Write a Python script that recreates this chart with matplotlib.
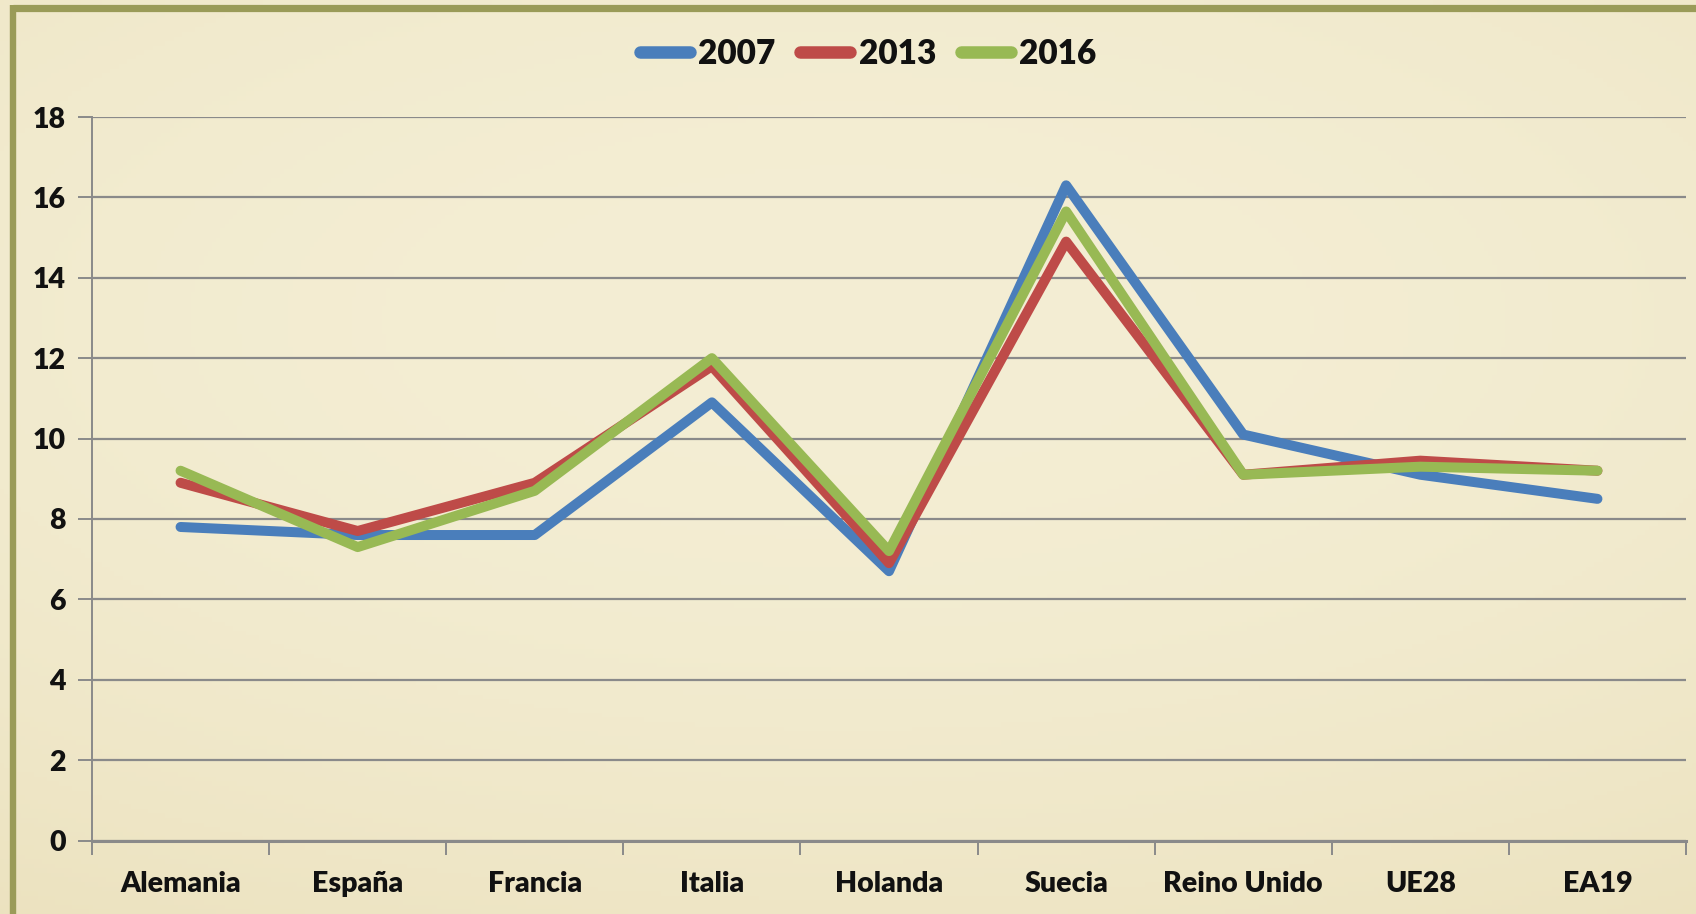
import numpy as np
import matplotlib
matplotlib.use("Agg")
import matplotlib.pyplot as plt
from matplotlib.lines import Line2D

categories = ["Alemania", "España", "Francia", "Italia", "Holanda", "Suecia", "Reino Unido", "UE28", "EA19"]
series_names = ["2007", "2013", "2016"]
v2007 = [7.8, 7.6, 7.6, 10.9, 6.7, 16.3, 10.1, 9.1, 8.5]
v2013 = [8.9, 7.7, 8.9, 11.8, 6.9, 14.9, 9.1, 9.45, 9.2]
v2016 = [9.2, 7.3, 8.7, 12.0, 7.2, 15.65, 9.1, 9.3, 9.2]
yticks = [0, 2, 4, 6, 8, 10, 12, 14, 16, 18]

colors = ["#4a7ebb", "#be4b48", "#98b954"]

plt.rcParams['font.family'] = ['Lato', 'DejaVu Sans']

W, H = 1696, 914
fig = plt.figure(figsize=(W / 100, H / 100), dpi=100)
fig.patch.set_facecolor("#f3ecd1")

# background parchment gradient (decorative)
bg = fig.add_axes([0, 0, 1, 1], zorder=-10)
yy, xx = np.mgrid[0:1:200j, 0:1:400j]
r = np.sqrt(((xx - 0.5) / 1.1) ** 2 + ((yy - 0.35) / 0.9) ** 2)
base = np.array([0xf4, 0xee, 0xd4]) / 255.0
edge = np.array([0xe9, 0xde, 0xb8]) / 255.0
t = np.clip(r, 0, 1)[..., None] ** 2
img = base * (1 - t) + edge * t
bg.imshow(img, extent=[0, 1, 0, 1], aspect="auto", origin="upper")
bg.set_axis_off()

# olive frame (top and left)
border_col = "#9a9b58"
fig.add_artist(Line2D([13 / W, 1.0], [1 - 7.5 / H, 1 - 7.5 / H], color=border_col, lw=5.2,
                      transform=fig.transFigure, solid_capstyle="butt"))
fig.add_artist(Line2D([13 / W, 13 / W], [0, 1 - 5 / H], color=border_col, lw=4.6,
                      transform=fig.transFigure, solid_capstyle="butt"))

left, right = 92 / W, 1686 / W
bottom, top = 1 - 840.5 / H, 1 - 117 / H
ax = fig.add_axes([left, bottom, right - left, top - bottom])
ax.set_facecolor("none")

x = np.arange(len(categories))
for vals, name, c in zip([v2007, v2013, v2016], series_names, colors):
    ax.plot(x, vals, color=c, lw=7.2, solid_capstyle="round", solid_joinstyle="round",
            label=name, zorder=3, clip_on=False)

ax.set_xlim(-0.5, len(categories) - 0.5)
ax.set_ylim(0, 18)
ax.set_yticks(yticks)
ax.set_yticklabels([str(v) for v in yticks])
ax.yaxis.grid(True, color="#8a8a8a", lw=1.6)
ax.set_axisbelow(True)

ax.set_xticks(x)
ax.set_xticklabels(categories)
ax.set_xticks(np.arange(-0.5, len(categories), 1.0), minor=True)
ax.tick_params(axis="x", which="major", length=0, pad=22, labelsize=20.5)
ax.tick_params(axis="x", which="minor", length=10, width=1.4, color="#8a8a8a", direction="out")
ax.tick_params(axis="y", length=10, width=1.4, color="#8a8a8a", labelsize=20.5, pad=9)
for lab in ax.get_xticklabels() + ax.get_yticklabels():
    lab.set_fontweight("heavy")
    lab.set_color("#111111")

for s in ["top", "right"]:
    ax.spines[s].set_visible(False)
ax.spines["left"].set_color("#8a8a8a")
ax.spines["left"].set_linewidth(1.4)
ax.spines["bottom"].set_color("#8a8a8a")
ax.spines["bottom"].set_linewidth(2.2)

leg = fig.legend(loc="center", bbox_to_anchor=(868 / W, 1 - 54 / H), ncol=3, frameon=False,
                 prop={"weight": "heavy", "size": 24}, handlelength=1.5, handletextpad=0.25,
                 columnspacing=0.75)
for h in leg.legend_handles:
    h.set_linewidth(9)
    h.set_solid_capstyle("round")
for t_ in leg.get_texts():
    t_.set_color("#111111")

fig.savefig("out.png", dpi=100, facecolor=fig.get_facecolor())
